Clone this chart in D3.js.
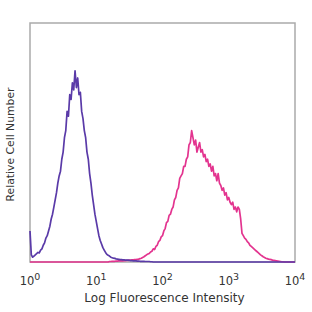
<!DOCTYPE html>
<html>
<head>
<meta charset="utf-8">
<script src="https://cdn.jsdelivr.net/npm/d3@7"></script>
<style>
  body { margin: 0; background: #fff; }
  text { font-family: "DejaVu Sans", sans-serif; fill: #333; }
</style>
</head>
<body>
<div id="chart"></div>
<script>
// histogram channels, in decades (log10 of intensity), step 0.02
const channels = d3.range(0, 201).map(i => +(i * 0.02).toFixed(2));

// unstained / isotype (purple)
const purpleCounts = [
  13, 3, 2, 2.5, 3, 3.5, 4, 3.8, 5, 5.5,
  7, 8, 10, 11, 13, 15, 18, 20, 23, 26,
  29, 33, 36, 38, 43, 46, 52, 55, 63, 61,
  70, 68, 75, 72, 80, 73, 77, 70, 71, 63,
  60, 55, 52, 46, 43, 37, 33, 28, 24, 20,
  17, 14, 11, 9, 7.5, 6, 5, 4, 3.2, 2.8,
  2.5, 2, 1.8, 1.6, 1.5, 1.3, 1.2, 1.1, 1.0, 1.0,
  0.9, 0.9, 0.8, 0.8, 0.8, 0.7, 0.6, 0.6, 0.5, 0.5,
  0.5, 0.4, 0.4, 0.3, 0.3, 0.3, 0.3, 0.2, 0.2, 0.2,
  0.2, 0.1, 0.1, 0, 0, 0, 0, 0, 0, 0,
  0, 0, 0, 0, 0, 0, 0, 0, 0, 0,
  0, 0, 0, 0, 0, 0, 0, 0, 0, 0,
  0, 0, 0, 0, 0, 0, 0, 0, 0, 0,
  0, 0, 0, 0, 0, 0, 0, 0, 0, 0,
  0, 0, 0, 0, 0, 0, 0, 0, 0, 0,
  0, 0, 0, 0, 0, 0, 0, 0, 0, 0,
  0, 0, 0, 0, 0, 0, 0, 0, 0, 0,
  0, 0, 0, 0, 0, 0, 0, 0, 0, 0,
  0, 0, 0, 0, 0, 0, 0, 0, 0, 0,
  0, 0, 0, 0, 0, 0, 0, 0, 0, 0,
  0
];

// stained (pink)
const pinkCounts = [
  0, 0, 0, 0, 0, 0, 0, 0, 0, 0,
  0, 0, 0, 0, 0, 0, 0, 0, 0, 0,
  0, 0, 0, 0, 0, 0, 0, 0, 0, 0,
  0, 0, 0, 0, 0, 0, 0, 0, 0, 0,
  0, 0, 0, 0, 0, 0, 0, 0, 0, 0,
  0, 0, 0, 0, 0, 0, 0, 0, 0, 0,
  0.2, 0.2, 0.3, 0.3, 0.3, 0.4, 0.4, 0.5, 0.5, 0.5,
  0.5, 0.6, 0.6, 0.7, 0.7, 0.8, 0.8, 0.9, 0.9, 1.0,
  1.0, 1.1, 1.2, 1.4, 1.6, 1.9, 2.2, 2.6, 3, 3.3,
  3.6, 4.2, 4.5, 5.5, 5.2, 6.5, 7, 8.5, 9, 10.5,
  11, 13, 14, 16.5, 17, 19.5, 20, 22, 23, 26,
  27, 30, 31, 35, 36, 37, 40, 40, 43, 44,
  49, 50, 55, 52, 49, 51, 46, 48, 50, 46,
  47, 44, 45, 42, 43, 40, 41, 38, 40, 36,
  37, 34, 37, 33, 32, 30, 31, 28, 29, 26,
  27, 25, 24, 25, 22, 23, 21, 23, 22, 18,
  12, 11, 10, 9.5, 8.5, 8, 7, 6.5, 6, 5.5,
  5, 4.5, 4, 3.5, 3, 2.6, 2.2, 1.9, 1.6, 1.4,
  1.2, 1.1, 1.0, 0.8, 0.7, 0.6, 0.5, 0.4, 0.3, 0.2,
  0.1, 0.1, 0, 0, 0, 0, 0, 0, 0, 0,
  0
];

const tickExps = ["0", "1", "2", "3", "4"];

if (purpleCounts.length !== channels.length || pinkCounts.length !== channels.length) {
  throw new Error("length mismatch " + purpleCounts.length + " " + pinkCounts.length);
}

const width = 312, height = 312;
const margin = { left: 30, right: 17, top: 23, bottom: 50 };

const svg = d3.select("#chart").append("svg")
  .attr("width", width)
  .attr("height", height);

const x = d3.scaleLinear().domain([0, 4]).range([margin.left, width - margin.right]);
const y = d3.scaleLinear().domain([0, 100]).range([height - margin.bottom, margin.top]);

// frame
svg.append("rect")
  .attr("x", x(0)).attr("y", y(100))
  .attr("width", x(4) - x(0)).attr("height", y(0) - y(100))
  .attr("fill", "none").attr("stroke", "#aaa").attr("stroke-width", 1.5);

const line = d3.line()
  .x((d, i) => x(channels[i]))
  .y(d => y(d));

svg.append("path").datum(pinkCounts)
  .attr("d", line).attr("fill", "none")
  .attr("stroke", "#e3348f").attr("stroke-width", 1.7)
  .attr("stroke-linejoin", "round");

svg.append("path").datum(purpleCounts)
  .attr("d", line).attr("fill", "none")
  .attr("stroke", "#5a3aa8").attr("stroke-width", 1.7)
  .attr("stroke-linejoin", "round");

// tick labels 10^n
const tl = svg.selectAll(".tick-label").data(tickExps).enter()
  .append("text")
  .attr("class", "tick-label")
  .attr("x", d => x(+d))
  .attr("y", 285)
  .attr("text-anchor", "middle")
  .style("font-size", "11.5px");
tl.append("tspan").text("10");
tl.append("tspan").attr("dy", -5).style("font-size", "9.5px").text(d => d);

svg.append("text")
  .attr("x", (x(0) + x(4)) / 2 + 2)
  .attr("y", 302)
  .attr("text-anchor", "middle")
  .style("font-size", "12px")
  .text("Log Fluorescence Intensity");

svg.append("text")
  .attr("transform", `translate(14, ${(y(0) + y(100)) / 2 + 2}) rotate(-90)`)
  .attr("text-anchor", "middle")
  .style("font-size", "10.8px")
  .text("Relative Cell Number");
</script>
</body>
</html>
